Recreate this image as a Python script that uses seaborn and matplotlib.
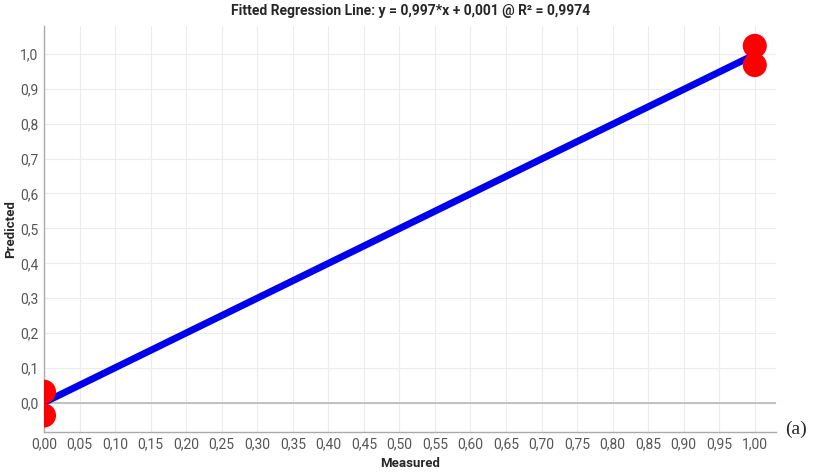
import numpy as np
import pandas as pd
import matplotlib
matplotlib.use("Agg")
import matplotlib.pyplot as plt
import seaborn as sns

# Measured vs predicted values
measured = [0.0, 0.0, 1.0, 1.0]
predicted = [0.032, -0.036, 1.023, 0.968]

# Fitted regression line endpoints
line_x = [0.0, 1.0]
line_y = [0.001, 0.998]

x_ticks = np.round(np.arange(0, 1.0001, 0.05), 2)
y_ticks = np.round(np.arange(0, 1.0001, 0.1), 1)

sns.set_style("whitegrid")
plt.rcParams['font.family'] = ['Roboto', 'DejaVu Sans']

fig = plt.figure(figsize=(8.18, 4.72), dpi=100)
ax = fig.add_axes([0.0538, 0.085, 0.895, 0.86])

pts = pd.DataFrame({"Measured": measured, "Predicted": predicted})
fit = pd.DataFrame({"x": line_x, "y": line_y})

sns.lineplot(data=fit, x="x", y="y", color="#0000ee", linewidth=5, ax=ax, zorder=3)
sns.scatterplot(data=pts, x="Measured", y="Predicted", color="#ff0000", s=300,
                edgecolor="none", ax=ax, zorder=4)

ax.set_xlim(0, 1.03)
ax.set_ylim(-0.083, 1.08)
ax.set_xticks(x_ticks)
ax.set_xticklabels([f"{v:.2f}".replace(".", ",") for v in x_ticks])
ax.set_yticks(y_ticks)
ax.set_yticklabels([f"{v:.1f}".replace(".", ",") for v in y_ticks])
ax.tick_params(labelsize=10, colors="#555555", length=0, pad=4)

ax.grid(True, color="#ececec", linewidth=0.8)
ax.axhline(0, color="#b4b4c8", linewidth=1.2, zorder=1)
for s in ["top", "right"]:
    ax.spines[s].set_visible(False)
for s in ["left", "bottom"]:
    ax.spines[s].set_color("#aaaaaa")
    ax.spines[s].set_linewidth(1)

ax.set_xlabel("Measured", fontsize=9.5, fontweight="bold", labelpad=4)
ax.set_ylabel("Predicted", fontsize=9.5, fontweight="bold", labelpad=2)
ax.set_title("Fitted Regression Line: y = 0,997*x + 0,001 @ R² = 0,9974",
             fontsize=10, fontweight="bold", pad=8)

fig.text(0.96, 0.09, "(a)", fontsize=14, family="Liberation Serif", ha="left", va="center")

fig.savefig("out.png", dpi=100)
